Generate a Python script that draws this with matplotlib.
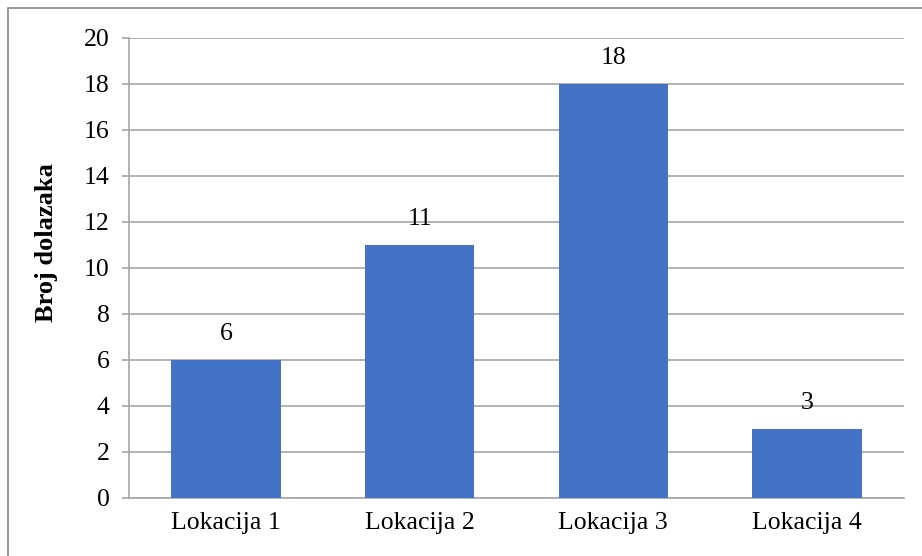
import matplotlib.pyplot as plt
from matplotlib.patches import Rectangle

# data
lokacije = ['Lokacija 1', 'Lokacija 2', 'Lokacija 3', 'Lokacija 4']
broj_dolazaka = [6, 11, 18, 3]
y_ticks = [0, 2, 4, 6, 8, 10, 12, 14, 16, 18, 20]

plt.rcParams['font.family'] = ['Liberation Serif', 'DejaVu Serif']

fig = plt.figure(figsize=(9.22, 5.56), dpi=100)
ax = fig.add_axes([129/922, 1-498/556, 775/922, 460/556])

bars = ax.bar(range(len(lokacije)), broj_dolazaka, width=0.565, color='#4472C4', zorder=3)
for b, v in zip(bars, broj_dolazaka):
    ax.annotate(str(v), (b.get_x() + b.get_width()/2, v), xytext=(0, 11),
                textcoords='offset points', ha='center', va='bottom', fontsize=18.5)

ax.set_xlim(-0.5, len(lokacije) - 0.5)
ax.set_ylim(0, 20)
ax.set_yticks(y_ticks)
ax.set_xticks(range(len(lokacije)))
ax.set_xticklabels(lokacije)
ax.yaxis.grid(True, color='#A6A6A6', linewidth=1.2, zorder=0)
ax.tick_params(axis='y', length=5, width=1.2, color='#A6A6A6', labelsize=18.5, pad=9)
ax.tick_params(axis='x', length=0, labelsize=18.5, pad=10)
for s in ['top', 'right']:
    ax.spines[s].set_visible(False)
ax.spines['left'].set_color('#A6A6A6')
ax.spines['left'].set_linewidth(1.2)
ax.spines['bottom'].set_color('#A6A6A6')
ax.spines['bottom'].set_linewidth(1.2)
ax.set_ylabel('Broj dolazaka', fontsize=19, fontweight='bold')
ax.yaxis.set_label_coords((58 - 129) / 775, (498 - 243) / 460)

# gray frame around the chart
fig.patches.append(Rectangle((8/922, -0.1), 1.2, 1 - 8/556 + 0.1, transform=fig.transFigure,
                             fill=False, edgecolor='#888888', linewidth=1.2))

fig.savefig('out.png', dpi=100)
